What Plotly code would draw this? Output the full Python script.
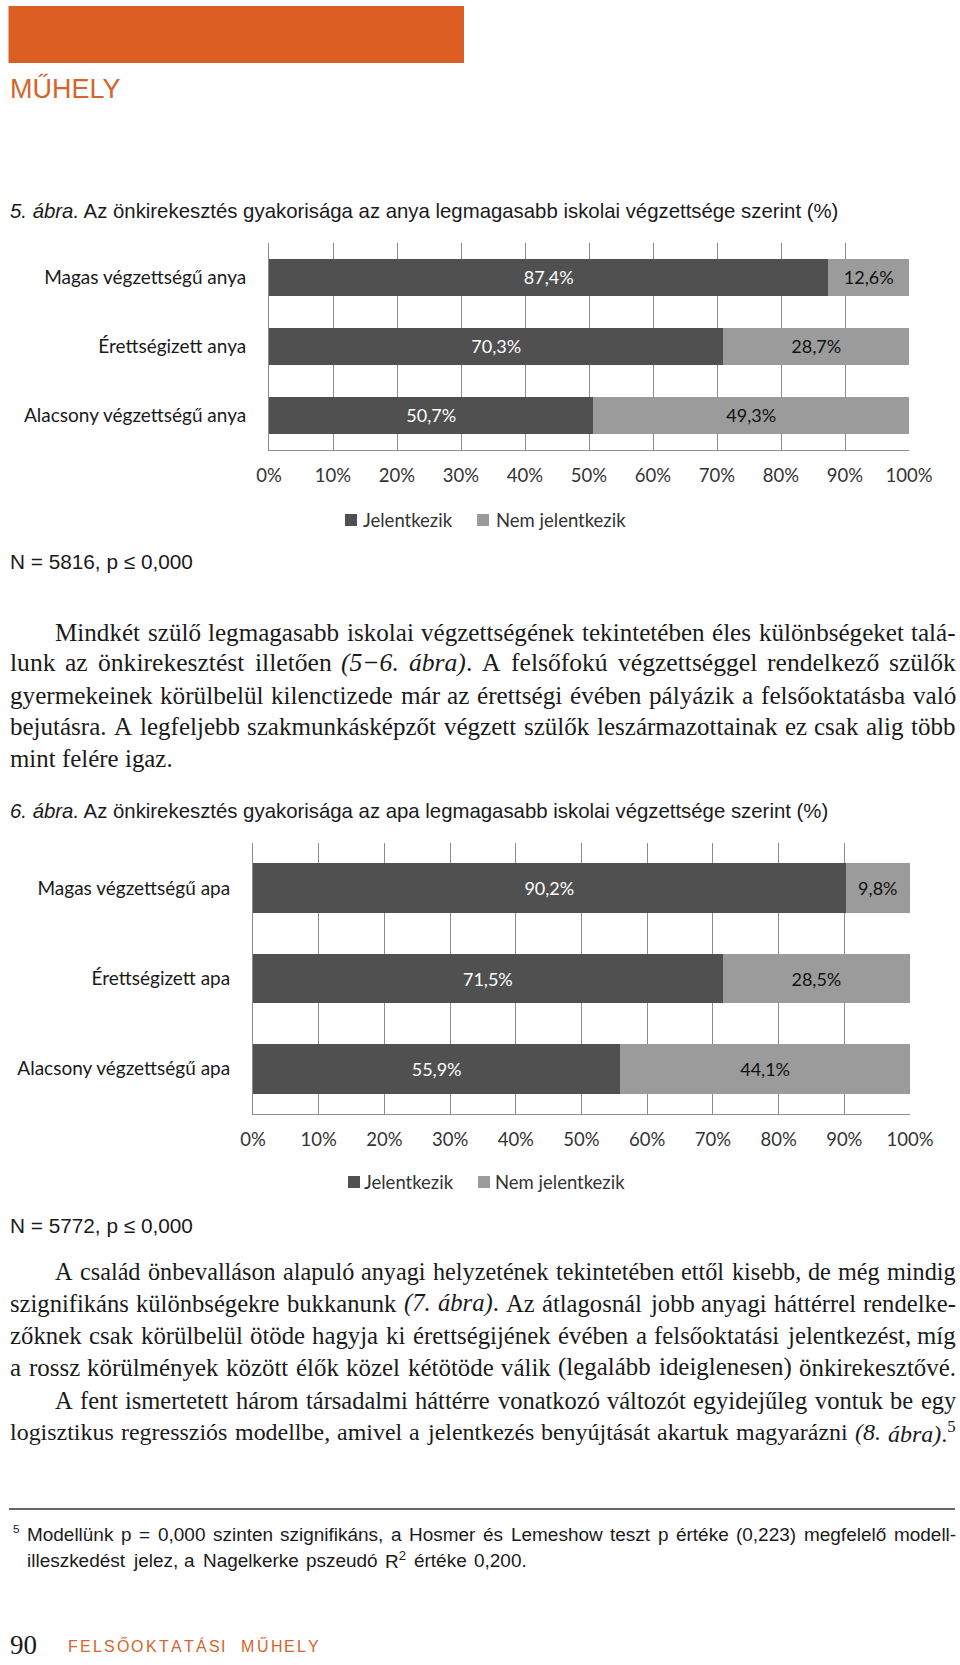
import unicodedata
import statistics
import plotly.graph_objects as go

W, H = 960, 1665

# ---------------- data ----------------
cat_anya = ["Magas végzettségű anya", "Érettségizett anya", "Alacsony végzettségű anya"]
jel_anya = [87.4, 70.3, 50.7]
nem_anya = [12.6, 28.7, 49.3]

cat_apa = ["Magas végzettségű apa", "Érettségizett apa", "Alacsony végzettségű apa"]
jel_apa = [90.2, 71.5, 55.9]
nem_apa = [9.8, 28.5, 44.1]

tick_vals = [0, 10, 20, 30, 40, 50, 60, 70, 80, 90, 100]
tick_text = [f"{v}%" for v in tick_vals]
series_names = ["Jelentkezik", "Nem jelentkezik"]

# ---------------- style ----------------
DARK = "#505050"
LIGHT = "#9b9b9b"
GRID = "#8c8c8c"
ORANGE = "#DC5E22"
ORANGE_TXT = "#D4652D"
CHART_FONT = "Lato"
SERIF = "Liberation Serif"
SANS = "Liberation Sans"
TXT = "#1a1a1a"

# approximate glyph widths (1/1000 em)
TIMES = {' ': 250, '(': 333, ')': 333, ',': 250, '-': 333, '.': 250, ':': 278, '−': 564, '%': 833,
         'A': 722, 'B': 667, 'C': 667, 'D': 722, 'E': 611, 'F': 556, 'G': 722, 'H': 722, 'I': 333,
         'J': 389, 'K': 722, 'L': 611, 'M': 889, 'N': 722, 'O': 722, 'P': 556, 'Q': 722, 'R': 667,
         'S': 556, 'T': 611, 'U': 722, 'V': 722, 'W': 944, 'X': 722, 'Y': 722, 'Z': 611,
         'a': 444, 'b': 500, 'c': 444, 'd': 500, 'e': 444, 'f': 333, 'g': 500, 'h': 500, 'i': 278,
         'j': 278, 'k': 500, 'l': 278, 'm': 778, 'n': 500, 'o': 500, 'p': 500, 'q': 500, 'r': 333,
         's': 389, 't': 278, 'u': 500, 'v': 500, 'w': 722, 'x': 500, 'y': 500, 'z': 444}
for d in "0123456789":
    TIMES[d] = 500
TIMES_IT = dict(TIMES)
TIMES_IT.update({'a': 500, 'r': 389, 'f': 278, 'k': 444, 'm': 722, 'v': 444, 'w': 667, 'y': 444,
                 'z': 389, '−': 675})

ARIAL = {' ': 278, '(': 333, ')': 333, ',': 278, '-': 333, '.': 278, ':': 278, '=': 584, '≤': 549,
         '%': 889,
         'A': 667, 'B': 667, 'C': 722, 'D': 722, 'E': 667, 'F': 611, 'G': 778, 'H': 722, 'I': 278,
         'J': 500, 'K': 667, 'L': 556, 'M': 833, 'N': 722, 'O': 778, 'P': 667, 'Q': 778, 'R': 722,
         'S': 667, 'T': 611, 'U': 722, 'V': 667, 'W': 944, 'X': 667, 'Y': 667, 'Z': 611,
         'a': 556, 'b': 556, 'c': 500, 'd': 556, 'e': 556, 'f': 278, 'g': 556, 'h': 556, 'i': 222,
         'j': 222, 'k': 500, 'l': 222, 'm': 833, 'n': 556, 'o': 556, 'p': 556, 'q': 556, 'r': 333,
         's': 500, 't': 278, 'u': 556, 'v': 500, 'w': 722, 'x': 500, 'y': 500, 'z': 500}
for d in "0123456789":
    ARIAL[d] = 556


def measure(s, reg, it=None):
    total, italic, sup, i = 0.0, False, False, 0
    while i < len(s):
        for tag, attr, val in (("<i>", "i", True), ("</i>", "i", False),
                               ("<sup>", "s", True), ("</sup>", "s", False)):
            if s.startswith(tag, i):
                if attr == "i":
                    italic = val
                else:
                    sup = val
                i += len(tag)
                break
        else:
            ch = s[i]
            base = unicodedata.normalize("NFD", ch)[0]
            tbl = it if (italic and it) else reg
            w = tbl.get(ch, tbl.get(base, 500))
            if sup:
                w *= 0.7
            total += w
            i += 1
    return total / 1000.0


annotations = []
shapes = []


def txt(x, y, text, size, family, color=TXT, anchor="left"):
    annotations.append(dict(x=x / W, y=1 - y / H, xref="paper", yref="paper", xanchor=anchor,
                            yanchor="middle", text=text, showarrow=False, borderpad=0,
                            font=dict(family=family, size=size, color=color)))


def fit_size(s, x0, x1, gap_em, reg, it):
    words = s.split(" ")
    em = sum(measure(w, reg, it) for w in words)
    return (x1 - x0) / (em + gap_em * (len(words) - 1))


def line_words(s, y, x0, x1, size, family, reg, it, justify=True, gap_em=None):
    words = s.split(" ")
    ws = [measure(w, reg, it) * size for w in words]
    if justify and len(words) > 1:
        gap = (x1 - x0 - sum(ws)) / (len(words) - 1)
    else:
        gap = (gap_em if gap_em is not None else reg[" "] / 1000.0) * size
    x = x0
    for w, wd in zip(words, ws):
        txt(x, y, w, size, family)
        x += wd + gap


def spaced(text, x0, x1, y, size, family, color, table):
    chars = list(text)
    widths = [measure(c, table) * size for c in chars]
    extra = (x1 - x0 - sum(widths)) / (len(chars) - 1)
    x = x0
    for c, wd in zip(chars, widths):
        if c != " ":
            txt(x, y, c, size, family, color)
        x += wd + extra


# ---------------- figure ----------------
fig = go.Figure()


def pct(v):
    return f"{v:.1f}".replace(".", ",") + "%"


for cats, jel, nem, xa, ya in [(cat_anya, jel_anya, nem_anya, "x", "y"),
                               (cat_apa, jel_apa, nem_apa, "x2", "y2")]:
    fig.add_trace(go.Bar(y=cats, x=jel, orientation="h", name=series_names[0],
                         marker=dict(color=DARK, line=dict(width=0)),
                         text=[pct(v) for v in jel], textposition="inside",
                         insidetextanchor="middle", textangle=0, constraintext="none",
                         textfont=dict(family=CHART_FONT, size=18, color="white"),
                         xaxis=xa, yaxis=ya, showlegend=False, hoverinfo="skip"))
    fig.add_trace(go.Bar(y=cats, x=nem, orientation="h", name=series_names[1],
                         marker=dict(color=LIGHT, line=dict(width=0)),
                         text=[pct(v) for v in nem], textposition="inside",
                         insidetextanchor="middle", textangle=0, constraintext="none",
                         textfont=dict(family=CHART_FONT, size=18, color="#111111"),
                         xaxis=xa, yaxis=ya, showlegend=False, hoverinfo="skip"))


def xax(x0, x1, anchor):
    return dict(domain=[x0 / W, x1 / W], anchor=anchor, range=[0, 100], tickmode="array",
                tickvals=tick_vals, ticktext=tick_text, showgrid=True, gridcolor=GRID, gridwidth=1,
                showline=True, linecolor=GRID, linewidth=1, zeroline=False, ticks="",
                tickfont=dict(family=CHART_FONT, size=18.5, color="#333333"),
                ticklabelstandoff=9, fixedrange=True)


def yax(top, bottom, anchor, cats):
    return dict(domain=[1 - bottom / H, 1 - top / H], anchor=anchor, type="category",
                categoryorder="array", categoryarray=cats, range=[2.5, -0.5], showgrid=False,
                showline=True, linecolor=GRID, linewidth=1, zeroline=False, ticks="",
                tickfont=dict(family=CHART_FONT, size=19, color="#1a1a1a"),
                ticklabelstandoff=18, fixedrange=True)


# header
shapes.append(dict(type="rect", xref="paper", yref="paper", x0=8.5 / W, x1=464 / W,
                   y0=1 - 63 / H, y1=1 - 6 / H, fillcolor=ORANGE, line=dict(width=0)))
txt(9, 89, "MŰHELY", 27, SANS, color=ORANGE_TXT)

# captions
cap1 = "<i>5. ábra.</i> Az önkirekesztés gyakorisága az anya legmagasabb iskolai végzettsége szerint (%)"
cap2 = "<i>6. ábra.</i> Az önkirekesztés gyakorisága az apa legmagasabb iskolai végzettsége szerint (%)"
cap_size = (839 - 9) / measure(cap1, ARIAL)
txt(9, 211, cap1, cap_size, SANS)
txt(9, 811, cap2, cap_size, SANS)

n1 = "N = 5816, p ≤ 0,000"
n2 = "N = 5772, p ≤ 0,000"
n_size = (192 - 9) / measure(n1, ARIAL)
txt(9, 561, n1, n_size, SANS)
txt(9, 1225, n2, n_size, SANS)

# legends (manual)
for ly, dx0, dtx, lx0, ltx in [(520, 345, 362, 477, 495), (1182, 348, 363, 478, 494)]:
    shapes.append(dict(type="rect", xref="paper", yref="paper", x0=dx0 / W, x1=(dx0 + 12) / W,
                       y0=1 - (ly + 6) / H, y1=1 - (ly - 6) / H, fillcolor=DARK, line=dict(width=0)))
    shapes.append(dict(type="rect", xref="paper", yref="paper", x0=lx0 / W, x1=(lx0 + 12) / W,
                       y0=1 - (ly + 6) / H, y1=1 - (ly - 6) / H, fillcolor=LIGHT, line=dict(width=0)))
    txt(dtx, ly, series_names[0], 18.5, CHART_FONT, color="#333333")
    txt(ltx, ly, series_names[1], 18.5, CHART_FONT, color="#333333")

# paragraphs
P1 = [
    "Mindkét szülő legmagasabb iskolai végzettségének tekintetében éles különbségeket talá-",
    "lunk az önkirekesztést illetően <i>(5−6.</i> <i>ábra)</i>. A felsőfokú végzettséggel rendelkező szülők",
    "gyermekeinek körülbelül kilenctizede már az érettségi évében pályázik a felsőoktatásba való",
    "bejutásra. A legfeljebb szakmunkásképzőt végzett szülők leszármazottainak ez csak alig több",
    "mint felére igaz.",
]
P1_y = [632, 663, 695, 726, 758]
P1_indent = [True, False, False, False, False]
P1_just = [True, True, True, True, False]

P2 = [
    "A család önbevalláson alapuló anyagi helyzetének tekintetében ettől kisebb, de még mindig",
    "szignifikáns különbségekre bukkanunk <i>(7.</i> <i>ábra)</i>. Az átlagosnál jobb anyagi háttérrel rendelke-",
    "zőknek csak körülbelül ötöde hagyja ki érettségijének évében a felsőoktatási jelentkezést, míg",
    "a rossz körülmények között élők közel kétötöde válik (legalább ideiglenesen) önkirekesztővé.",
    "A fent ismertetett három társadalmi háttérre vonatkozó változót egyidejűleg vontuk be egy",
    "logisztikus regressziós modellbe, amivel a jelentkezés benyújtását akartuk magyarázni <i>(8.</i> <i>ábra)</i>.<sup>5</sup>",
]
P2_y = [1271, 1303, 1335, 1367, 1400, 1432]
P2_indent = [True, False, False, False, True, False]
P2_just = [True, True, True, True, True, True]

LEFT, RIGHT, INDENT = 9, 955, 54
GAP_EM = 0.3
all_lines = []
for lines, ys, ind, jus in [(P1, P1_y, P1_indent, P1_just), (P2, P2_y, P2_indent, P2_just)]:
    for s, y, i_, j_ in zip(lines, ys, ind, jus):
        x0 = INDENT if i_ else LEFT
        all_lines.append((s, y, x0, j_, fit_size(s, x0, RIGHT, GAP_EM, TIMES, TIMES_IT)))
S = min(statistics.median([f for (_, _, _, j, f) in all_lines if j]), 26)
for s, y, x0, j_, f in all_lines:
    size = max(min(f, 1.03 * S), 0.94 * S) if j_ else S
    line_words(s, y, x0, RIGHT, size, SERIF, TIMES, TIMES_IT, j_, gap_em=0.25)

# footnote
shapes.append(dict(type="line", xref="paper", yref="paper", x0=9 / W, x1=955 / W,
                   y0=1 - 1509 / H, y1=1 - 1509 / H, line=dict(color="#333333", width=1.5)))
F1 = "Modellünk p = 0,000 szinten szignifikáns, a Hosmer és Lemeshow teszt p értéke (0,223) megfelelő modell-"
F2 = "illeszkedést jelez, a Nagelkerke pszeudó R<sup>2</sup> értéke 0,200."
fn_size = fit_size(F1, 26, 955, 0.4, ARIAL, None)
txt(12, 1528, "5", fn_size * 0.62, SANS)
line_words(F1, 1534, 26, 955, fn_size, SANS, ARIAL, None, True)
line_words(F2, 1560, 26, 955, fn_size, SANS, ARIAL, None, False, gap_em=0.4)

# footer
txt(9, 1645, "90", 27, SERIF)
spaced("FELSŐOKTATÁSI  MŰHELY", 67, 318, 1646, 16, SANS, ORANGE_TXT, ARIAL)

fig.update_layout(
    width=W, height=H, margin=dict(l=0, r=0, t=0, b=0, autoexpand=False),
    paper_bgcolor="white", plot_bgcolor="white",
    barmode="stack", barnorm="percent", bargap=0.45,
    xaxis=xax(269, 909, "y"), yaxis=yax(243, 450, "x", cat_anya),
    xaxis2=xax(253, 910, "y2"), yaxis2=yax(843, 1114, "x2", cat_apa),
    annotations=annotations, shapes=shapes,
    showlegend=False, hovermode=False,
)

fig.write_html("out.html")
